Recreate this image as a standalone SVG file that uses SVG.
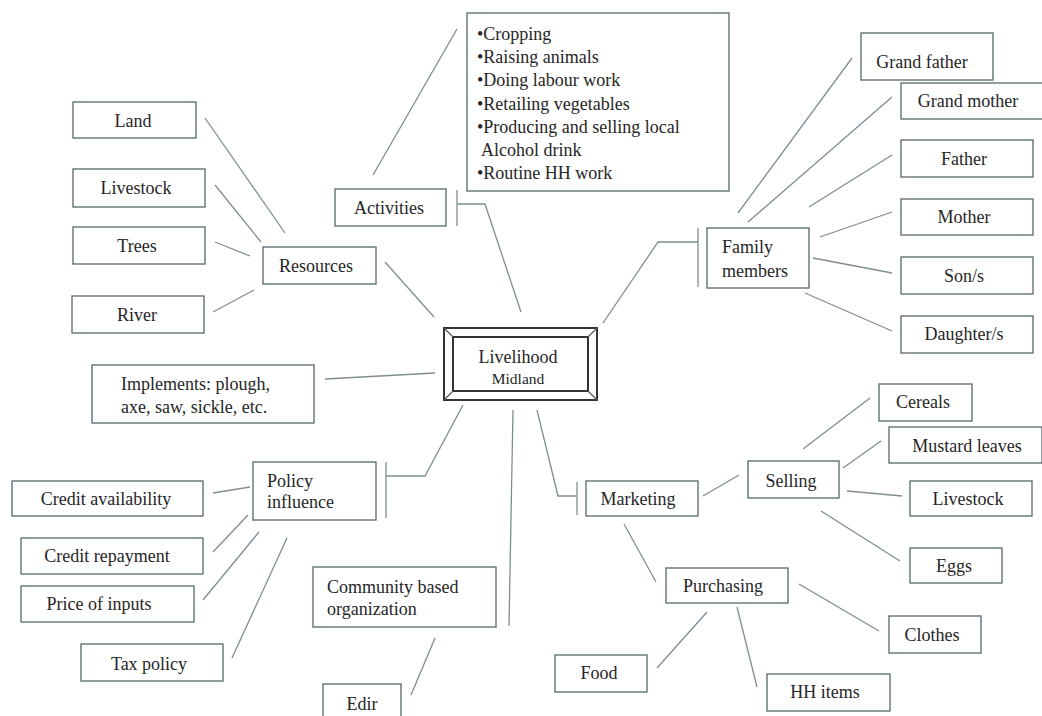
<svg xmlns="http://www.w3.org/2000/svg" width="1042" height="716" viewBox="0 0 1042 716">
<style>
.box{fill:#fff;stroke:#56676d;stroke-width:1.3}
.ln{stroke:#7f8d92;stroke-width:1.3;fill:none}
text{font-family:"Liberation Serif","Times New Roman",serif;font-size:18px;fill:#262626}
.c{text-anchor:middle}
</style>
<rect width="1042" height="716" fill="#fff"/>
<g id="connectors">
<line class="ln" x1="373" y1="175" x2="457" y2="29"/>
<polyline class="ln" points="457,204 485,204 521,312"/>
<line class="ln" x1="457" y1="190" x2="457" y2="226"/>
<polyline class="ln" points="603,323 658,242 698,242"/>
<line class="ln" x1="698" y1="228" x2="698" y2="287"/>
<line class="ln" x1="738" y1="213" x2="852" y2="58"/>
<line class="ln" x1="748" y1="222" x2="892" y2="97"/>
<line class="ln" x1="809" y1="207" x2="892" y2="155"/>
<line class="ln" x1="820" y1="237" x2="892" y2="212"/>
<line class="ln" x1="813" y1="258" x2="892" y2="273"/>
<line class="ln" x1="805" y1="293" x2="892" y2="331"/>
<line class="ln" x1="205" y1="118" x2="285" y2="233"/>
<line class="ln" x1="215" y1="185" x2="261" y2="242"/>
<line class="ln" x1="215" y1="242" x2="250" y2="256"/>
<line class="ln" x1="213" y1="312" x2="254" y2="290"/>
<line class="ln" x1="385" y1="262" x2="434" y2="317"/>
<line class="ln" x1="325" y1="379" x2="435" y2="373"/>
<polyline class="ln" points="386,476 425,476 463,405"/>
<line class="ln" x1="386" y1="462" x2="386" y2="518"/>
<line class="ln" x1="213" y1="493" x2="250" y2="487"/>
<line class="ln" x1="213" y1="552" x2="248" y2="515"/>
<line class="ln" x1="203" y1="600" x2="259" y2="532"/>
<line class="ln" x1="232" y1="658" x2="287" y2="538"/>
<line class="ln" x1="513" y1="410" x2="509" y2="626"/>
<line class="ln" x1="435" y1="638" x2="411" y2="695"/>
<polyline class="ln" points="537,410 558,496 577,496"/>
<line class="ln" x1="577" y1="482" x2="577" y2="515"/>
<line class="ln" x1="703" y1="496" x2="739" y2="475"/>
<line class="ln" x1="803" y1="449" x2="870" y2="398"/>
<line class="ln" x1="843" y1="468" x2="881" y2="441"/>
<line class="ln" x1="847" y1="491" x2="902" y2="496"/>
<line class="ln" x1="821" y1="511" x2="900" y2="561"/>
<line class="ln" x1="624" y1="524" x2="656" y2="582"/>
<line class="ln" x1="799" y1="584" x2="879" y2="631"/>
<line class="ln" x1="707" y1="612" x2="657" y2="668"/>
<line class="ln" x1="737" y1="607" x2="757" y2="687"/>
</g>
<g id="livelihood">
<rect x="444" y="328" width="153" height="72" fill="#fff" stroke="#333" stroke-width="2"/>
<rect x="453" y="337" width="135" height="54" fill="#fff" stroke="#333" stroke-width="2"/>
<path d="M444,328 L453,337 M597,328 L588,337 M444,400 L453,391 M597,400 L588,391" stroke="#555" stroke-width="1.2"/>
<text class="c" x="518" y="363">Livelihood</text>
<text class="c" x="518" y="384" style="font-size:15.5px">Midland</text>
</g>
<g id="activities"><rect class="box" x="335" y="189" width="111" height="37"/><text class="c" x="389" y="214">Activities</text></g>
<g id="activity-list"><rect class="box" x="467" y="13" width="262" height="178"/>
<text x="477" y="40">•Cropping</text>
<text x="477" y="63">•Raising animals</text>
<text x="477" y="86">•Doing labour work</text>
<text x="477" y="110">•Retailing vegetables</text>
<text x="477" y="133">•Producing and selling local</text>
<text x="481" y="156">Alcohol drink</text>
<text x="477" y="179">•Routine HH work</text>
</g>
<g id="family"><rect class="box" x="707" y="228" width="102" height="60"/><text x="722" y="253">Family</text><text x="722" y="277">members</text></g>
<g id="grandfather"><rect class="box" x="861" y="33" width="132" height="47"/><text class="c" x="922" y="68">Grand father</text></g>
<g id="grandmother"><rect class="box" x="901" y="83" width="142" height="36"/><text class="c" x="968" y="107">Grand mother</text></g>
<g id="father"><rect class="box" x="901" y="140" width="132" height="37"/><text class="c" x="964" y="165">Father</text></g>
<g id="mother"><rect class="box" x="901" y="199" width="132" height="36"/><text class="c" x="964" y="223">Mother</text></g>
<g id="sons"><rect class="box" x="901" y="257" width="132" height="37"/><text class="c" x="964" y="282">Son/s</text></g>
<g id="daughters"><rect class="box" x="901" y="316" width="132" height="37"/><text class="c" x="964" y="340">Daughter/s</text></g>
<g id="resources"><rect class="box" x="263" y="247" width="113" height="37"/><text class="c" x="316" y="272">Resources</text></g>
<g id="land"><rect class="box" x="73" y="102" width="123" height="36"/><text class="c" x="133" y="127">Land</text></g>
<g id="livestock-r"><rect class="box" x="73" y="169" width="132" height="38"/><text class="c" x="136" y="194">Livestock</text></g>
<g id="trees"><rect class="box" x="73" y="227" width="132" height="37"/><text class="c" x="137" y="252">Trees</text></g>
<g id="river"><rect class="box" x="72" y="296" width="132" height="37"/><text class="c" x="137" y="321">River</text></g>
<g id="implements"><rect class="box" x="92" y="365" width="222" height="58"/><text x="121" y="390">Implements: plough,</text><text x="121" y="413">axe, saw, sickle, etc.</text></g>
<g id="policy"><rect class="box" x="253" y="462" width="123" height="58"/><text x="267" y="487">Policy</text><text x="267" y="508">influence</text></g>
<g id="credit-availability"><rect class="box" x="12" y="481" width="191" height="35"/><text class="c" x="106" y="505">Credit availability</text></g>
<g id="credit-repayment"><rect class="box" x="21" y="538" width="182" height="36"/><text class="c" x="107" y="562">Credit repayment</text></g>
<g id="price-inputs"><rect class="box" x="21" y="586" width="173" height="36"/><text class="c" x="99" y="610">Price of inputs</text></g>
<g id="tax"><rect class="box" x="81" y="644" width="142" height="37"/><text class="c" x="149" y="670">Tax policy</text></g>
<g id="cbo"><rect class="box" x="313" y="567" width="183" height="60"/><text x="327" y="593">Community based</text><text x="327" y="615">organization</text></g>
<g id="edir"><rect class="box" x="323" y="684" width="78" height="40"/><text class="c" x="362" y="710">Edir</text></g>
<g id="marketing"><rect class="box" x="586" y="481" width="112" height="35"/><text class="c" x="638" y="505">Marketing</text></g>
<g id="selling"><rect class="box" x="748" y="461" width="91" height="37"/><text class="c" x="791" y="487">Selling</text></g>
<g id="cereals"><rect class="box" x="879" y="384" width="93" height="37"/><text class="c" x="923" y="408">Cereals</text></g>
<g id="mustard"><rect class="box" x="889" y="427" width="153" height="36"/><text class="c" x="967" y="452">Mustard leaves</text></g>
<g id="livestock-s"><rect class="box" x="910" y="481" width="122" height="35"/><text class="c" x="968" y="505">Livestock</text></g>
<g id="eggs"><rect class="box" x="910" y="548" width="92" height="35"/><text class="c" x="954" y="572">Eggs</text></g>
<g id="purchasing"><rect class="box" x="666" y="568" width="122" height="35"/><text class="c" x="723" y="592">Purchasing</text></g>
<g id="clothes"><rect class="box" x="889" y="616" width="92" height="37"/><text class="c" x="932" y="641">Clothes</text></g>
<g id="food"><rect class="box" x="555" y="655" width="92" height="37"/><text class="c" x="599" y="679">Food</text></g>
<g id="hh-items"><rect class="box" x="767" y="674" width="123" height="37"/><text class="c" x="825" y="698">HH items</text></g>
</svg>
